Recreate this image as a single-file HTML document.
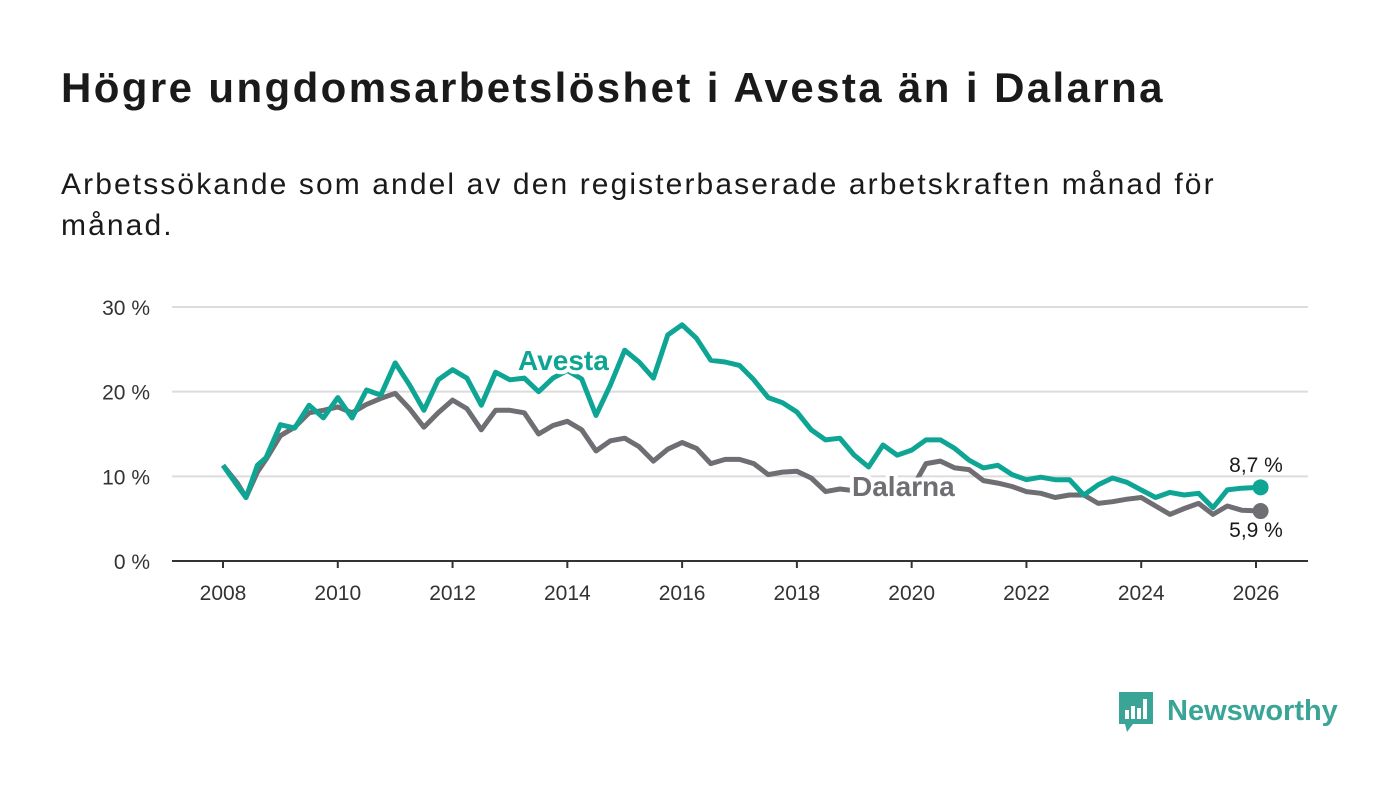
<!DOCTYPE html>
<html><head><meta charset="utf-8">
<style>
body{margin:0;background:#fff;width:1400px;height:794px;overflow:hidden;font-family:"Liberation Sans",sans-serif;}
h1{position:absolute;left:61px;top:64px;margin:0;font-size:42px;font-weight:bold;color:#1a1a1a;letter-spacing:2.4px;white-space:nowrap;}
p{position:absolute;left:61px;top:164px;margin:0;font-size:30px;line-height:41px;color:#1a1a1a;width:1200px;letter-spacing:2.1px;}
svg{position:absolute;left:0;top:0;}
</style></head><body>
<h1>Högre ungdomsarbetslöshet i Avesta än i Dalarna</h1>
<p>Arbetssökande som andel av den registerbaserade arbetskraften månad för månad.</p>
<svg id="chart" width="1400" height="794"></svg>
<script>
const yTicks=[0,10,20,30];
const xTicks=[2008,2010,2012,2014,2016,2018,2020,2022,2024,2026];
const avestaDates=[2008,2008.25,2008.4,2008.6,2008.75,2009,2009.25,2009.5,2009.75,2010,2010.25,2010.5,2010.75,2011,2011.25,2011.5,2011.75,2012,2012.25,2012.5,2012.75,2013,2013.25,2013.5,2013.75,2014,2014.25,2014.5,2014.75,2015,2015.25,2015.5,2015.75,2016,2016.25,2016.5,2016.75,2017,2017.25,2017.5,2017.75,2018,2018.25,2018.5,2018.75,2019,2019.25,2019.5,2019.75,2020,2020.25,2020.5,2020.75,2021,2021.25,2021.5,2021.75,2022,2022.25,2022.5,2022.75,2023,2023.25,2023.5,2023.75,2024,2024.25,2024.5,2024.75,2025,2025.25,2025.5,2025.75,2026.08];
const avestaValues=[11.3,8.9,7.5,11.3,12.2,16.1,15.7,18.4,16.9,19.3,16.9,20.2,19.6,23.4,20.8,17.8,21.4,22.6,21.6,18.4,22.3,21.4,21.6,20.0,21.6,22.5,21.5,17.2,20.8,24.9,23.5,21.6,26.7,27.9,26.3,23.7,23.5,23.1,21.4,19.3,18.7,17.6,15.5,14.3,14.5,12.5,11.1,13.7,12.5,13.1,14.3,14.3,13.3,11.9,11.0,11.3,10.2,9.6,9.9,9.6,9.6,7.8,9.0,9.8,9.3,8.4,7.5,8.1,7.8,8.0,6.3,8.4,8.6,8.7];
const dalarnaValues=[11.3,9.2,7.5,10.5,12,14.8,15.8,17.5,17.8,18.2,17.5,18.5,19.2,19.8,18,15.8,17.5,19,18,15.5,17.8,17.8,17.5,15,16,16.5,15.5,13,14.2,14.5,13.5,11.8,13.2,14,13.3,11.5,12,12,11.5,10.2,10.5,10.6,9.8,8.2,8.5,8.3,8,8,8,8.5,11.5,11.8,11,10.8,9.5,9.2,8.8,8.2,8,7.5,7.8,7.8,6.8,7,7.3,7.5,6.5,5.5,6.2,6.8,5.5,6.5,6,5.9];
const NS='http://www.w3.org/2000/svg';
const svg=document.getElementById('chart');
const X=t=>223+(t-2008)*(1256-223)/18;
const Y=v=>561-v*(561-307)/30;
function mk(tag,attrs,parent){const e=document.createElementNS(NS,tag);for(const k in attrs)e.setAttribute(k,attrs[k]);(parent||svg).appendChild(e);return e;}
yTicks.forEach(v=>{
  if(v>0){const g=mk('line',{x1:172,x2:1308,y1:Y(v),y2:Y(v),stroke:'#dcdcdc','stroke-width':2});
  
  }
  const t=mk('text',{x:150,y:Y(v)+8,'text-anchor':'end','font-size':21,fill:'#333'});
  t.textContent=v+' %';
  
  
});
const ax=mk('line',{x1:172,x2:1308,y1:561,y2:561,stroke:'#333','stroke-width':2});


xTicks.forEach(yr=>{
  mk('line',{x1:X(yr),x2:X(yr),y1:561,y2:568,stroke:'#333','stroke-width':2});
  const t=mk('text',{x:X(yr),y:600,'text-anchor':'middle','font-size':21,fill:'#333'});
  t.textContent=yr;
  
  
});
function line(vals,color,name){
  const d=vals.map((v,i)=>(i?'L':'M')+X(avestaDates[i]).toFixed(1)+' '+Y(v).toFixed(1)).join(' ');
  const p=mk('path',{d:d,fill:'none',stroke:color,'stroke-width':5,'stroke-linejoin':'round'});
  
  
  const n=vals.length-1;
  const c=mk('circle',{cx:X(avestaDates[n]),cy:Y(vals[n]),r:8,fill:color});
  
  
}
line(dalarnaValues,'#6f6e73','dalarna-line');
line(avestaValues,'#0fa595','avesta-line');
function label(x,y,txt,color,name,anchor){
  const t=mk('text',{x:x,y:y,'font-size':28,'font-weight':'bold',fill:color,stroke:'#fff','stroke-width':8,'paint-order':'stroke','stroke-linejoin':'round','text-anchor':anchor||'start'});
  t.textContent=txt;
  
  
}
label(518,370,'Avesta','#0fa595','avesta-label');
label(852,496,'Dalarna','#6f6e73','dalarna-label');
function endLabel(y,txt,name){
  const t=mk('text',{x:1256,y:y,'font-size':21,fill:'#1a1a1a','text-anchor':'middle'});
  t.textContent=txt;
  
  
}
endLabel(472,(avestaValues[avestaValues.length-1]+'').replace('.',',')+' %','avesta-end-value');
endLabel(537,(dalarnaValues[dalarnaValues.length-1]+'').replace('.',',')+' %','dalarna-end-value');
const lg=mk('g',{});


mk('path',{d:'M1119 692 h34 v32 h-20 l-6 8 l-2 -8 h-6 z',fill:'#3aa596'},lg);
mk('rect',{x:1125,y:710,width:4,height:9,fill:'#fff'},lg);
mk('rect',{x:1131,y:706,width:4,height:13,fill:'#fff'},lg);
mk('rect',{x:1137,y:708,width:4,height:11,fill:'#fff'},lg);
mk('rect',{x:1143,y:699,width:4,height:20,fill:'#fff'},lg);
const lt=mk('text',{x:1167,y:720,'font-size':29,'font-weight':'bold',fill:'#3aa596'},lg);
lt.textContent='Newsworthy';
</script>
</body></html>
